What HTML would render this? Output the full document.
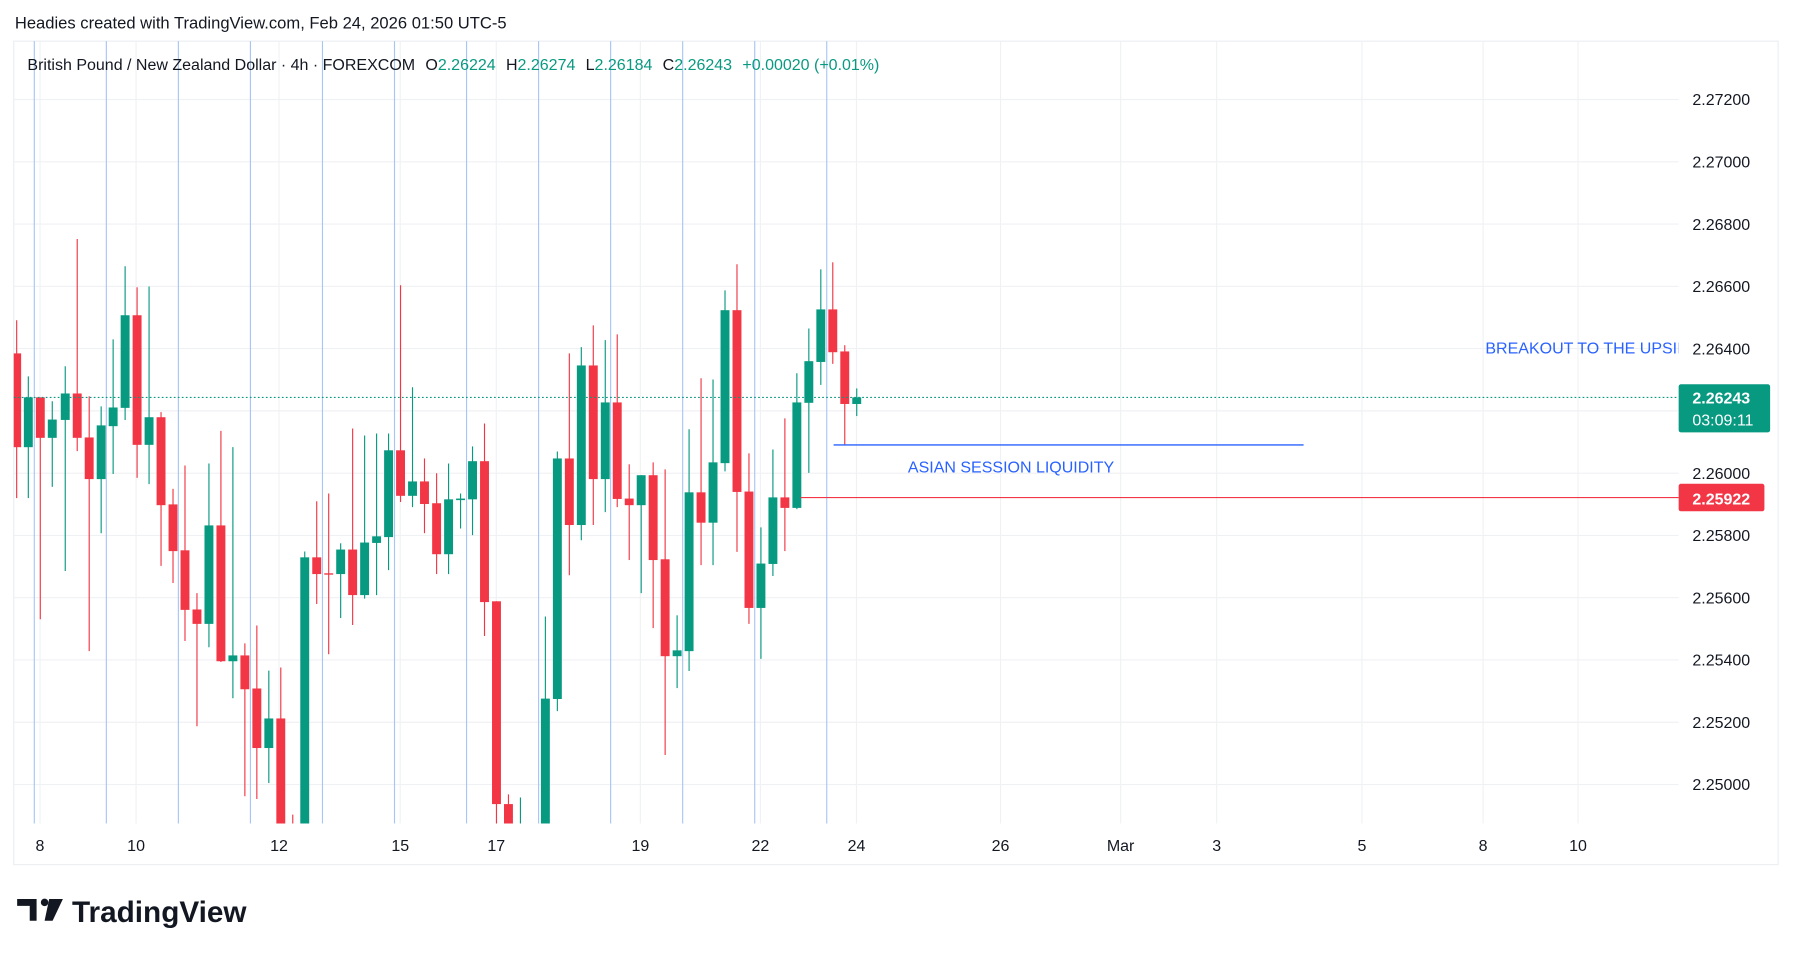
<!DOCTYPE html>
<html><head><meta charset="utf-8"><style>
html,body{margin:0;padding:0;background:#fff;width:1793px;height:955px;overflow:hidden}
svg{display:block}
text{font-family:"Liberation Sans",sans-serif}
.pre{white-space:pre}
</style></head><body>
<svg id="s" width="1793" height="955" viewBox="0 0 1568 835" preserveAspectRatio="none" xmlns="http://www.w3.org/2000/svg">
<defs><clipPath id="cp"><rect x="12" y="36" width="1456" height="684"/></clipPath></defs>
<rect width="1568" height="835" fill="#fff"/>
<text x="13" y="25" font-size="14.5" fill="#131722">Headies created with TradingView.com, Feb 24, 2026 01:50 UTC-5</text>
<rect x="12" y="36" width="1543" height="720" fill="none" stroke="#eceef2" stroke-width="1"/>
<g id="grid"></g>
<g id="cand" clip-path="url(#cp)"></g>
<line x1="12" y1="347.5" x2="1468" y2="347.5" stroke="#089981" stroke-width="1" stroke-dasharray="1.5 2"/>
<line x1="700" y1="435" x2="1468" y2="435" stroke="#f23645" stroke-width="1"/>
<line x1="729" y1="389" x2="1140" y2="389" stroke="#2962ff" stroke-width="1.2"/>
<text x="794" y="413" font-size="14" fill="#2962ff">ASIAN SESSION LIQUIDITY</text>
<svg x="0" y="0" width="1468" height="835" overflow="hidden"><text x="1299" y="309" font-size="14" fill="#2962ff">BREAKOUT TO THE UPSIDE</text></svg>
<g id="paxis"></g>
<rect x="1468" y="336" width="80" height="42" rx="2" fill="#089981"/>
<text x="1480" y="353" font-size="14" fill="#fff" font-weight="bold">2.26243</text>
<text x="1480" y="372" font-size="14" fill="#fff">03:09:11</text>
<rect x="1468" y="423" width="75" height="24" rx="2" fill="#f23645"/>
<text x="1480" y="441" font-size="14" fill="#fff" font-weight="bold">2.25922</text>
<text class="pre" x="24" y="61" font-size="14" fill="#131722">British Pound / New Zealand Dollar · 4h · FOREXCOM<tspan dx="9">O</tspan><tspan fill="#089981">2.26224</tspan><tspan dx="9">H</tspan><tspan fill="#089981">2.26274</tspan><tspan dx="9">L</tspan><tspan fill="#089981">2.26184</tspan><tspan dx="9">C</tspan><tspan fill="#089981">2.26243</tspan><tspan dx="9" fill="#089981">+0.00020 (+0.01%)</tspan></text>
<g id="dates"></g>
<path d="M15 786h17v19h-6v-13h-11z" fill="#131722"/>
<circle cx="39" cy="789" r="3.3" fill="#131722"/>
<path d="M43 786h12l-9 19h-7z" fill="#131722"/>
<text x="63" y="806" font-size="26" font-weight="bold" fill="#131722">TradingView</text>
</svg>
<script>
var NS="http://www.w3.org/2000/svg";
function el(p,t,a,tx){var e=document.createElementNS(NS,t);for(var k in a)e.setAttribute(k,a[k]);if(tx)e.textContent=tx;p.appendChild(e);return e;}
var grid=document.getElementById('grid'),pax=document.getElementById('paxis'),dts=document.getElementById('dates'),cand=document.getElementById('cand');
var prices=["2.27200","2.27000","2.26800","2.26600","2.26400","","2.26000","2.25800","2.25600","2.25400","2.25200","2.25000"];
for(var k=0;k<12;k++){var y=87+k*54.45;el(grid,'line',{x1:12,x2:1468,y1:y,y2:y,stroke:'#f0f1f4','stroke-width':1});
 var lbl=prices[k]; if(lbl)el(pax,'text',{x:1480,y:y+5,'font-size':14,fill:'#131722'},lbl);}
var dx=[[35,"8"],[119,"10"],[244,"12"],[350,"15"],[434,"17"],[560,"19"],[665,"22"],[749,"24"],[875,"26"],[980,"Mar"],[1064,"3"],[1191,"5"],[1297,"8"],[1380,"10"]];
dx.forEach(function(d){el(grid,'line',{x1:d[0],x2:d[0],y1:36,y2:720,stroke:'#f0f1f4','stroke-width':1});
 el(dts,'text',{x:d[0],y:744,'font-size':14,fill:'#131722','text-anchor':'middle'},d[1]);});
for(var k=0;k<12;k++){var x=30+63*k;el(grid,'line',{x1:x,x2:x,y1:36,y2:720,stroke:'#a8c6f5','stroke-width':1});}
function Y(z){return 196+(z-10)*0.3403;}
var G='#089981',R='#f23645';
var A=[[47,'r',342,583,257,714],[82,'g',455,583,401,714],[118,'r',455,559,455,1025],[154,'g',512,559,465,685],[193,'g',445,513,375,901],[229,'r',445,559,48,593],[265,'r',558,665,452,1107],[301,'g',527,665,478,804],[337,'g',481,529,306,652],[373,'g',244,482,118,513],[409,'r',244,577,172,662],[445,'g',506,577,170,678],[481,'r',506,732,493,888],[517,'r',730,850,690,932],[553,'r',848,1001,630,1081],[589,'r',1000,1037,958,1300],[625,'g',784,1037,625,1097],[661,'r',784,1133,541,1135],[697,'g',1118,1133,583,1228],[733,'r',1118,1205,1087,1480],[769,'r',1203,1356,1041,1487],[805,'g',1280,1356,1157,1446],[841,'r',1280,1700,1149,1720],[877,'r',1600,1700,1527,1750],[913,'g',866,1700,851,1700],[949,'r',866,909,722,986],[985,'r',907,910,702,1115],[1021,'g',846,909,830,1022],[1057,'r',846,963,535,1040],[1093,'g',828,963,553,972],[1129,'g',812,829,548,963],[1165,'g',591,814,548,899],[1201,'r',591,708,167,724],[1237,'g',671,708,429,737],[1273,'r',671,729,612,804]];
var B=[[19,'r',727,858,650,909],[55,'g',717,858,625,909],[91,'g',715,719,702,792],[127,'g',619,717,581,809],[163,'r',619,981,522,1068],[199,'r',979,1500,979,1700],[235,'r',1500,1700,1475,1700],[271,'g',1600,1700,1483,1700],[307,'g',1650,1700,1600,1700],[346,'g',1229,1700,1018,1700],[382,'g',612,1230,594,1261],[418,'r',612,783,342,912],[454,'g',373,783,326,822],[490,'r',373,665,270,783],[526,'g',468,665,308,750],[562,'r',468,716,293,737],[598,'r',715,732,627,873],[634,'g',655,732,655,958],[670,'r',655,873,622,1048],[706,'r',871,1120,640,1374],[742,'g',1105,1120,1015,1202],[778,'g',699,1107,537,1158],[814,'r',699,777,406,886],[850,'g',622,777,409,886],[886,'g',231,624,180,645],[922,'r',231,698,113,852],[958,'r',697,996,599,1037],[994,'g',882,996,789,1127],[1030,'g',712,883,589,914],[1066,'r',712,739,509,850],[1102,'g',468,739,393,742],[1138,'g',362,469,278,649],[1174,'g',229,364,126,423],[1210,'r',229,339,108,369],[1246,'r',337,472,321,578],[1282,'g',455,472,432,503]];
function draw(c,x){var col=c[1]=='g'?G:R;var t=Y(c[2]),b=Y(c[3]);if(b-t<1.2)b=t+1.2;
 el(cand,'line',{x1:x,x2:x,y1:Y(c[4]),y2:Y(c[5]),stroke:col,'stroke-width':1});
 el(cand,'rect',{x:x-3.9,y:t,width:7.8,height:b-t,fill:col});}
A.forEach(function(c){draw(c,30+(c[0]-100)*0.2909);});
B.forEach(function(c){draw(c,408+(c[0]-109)*0.2909);});
</script>
</body></html>
